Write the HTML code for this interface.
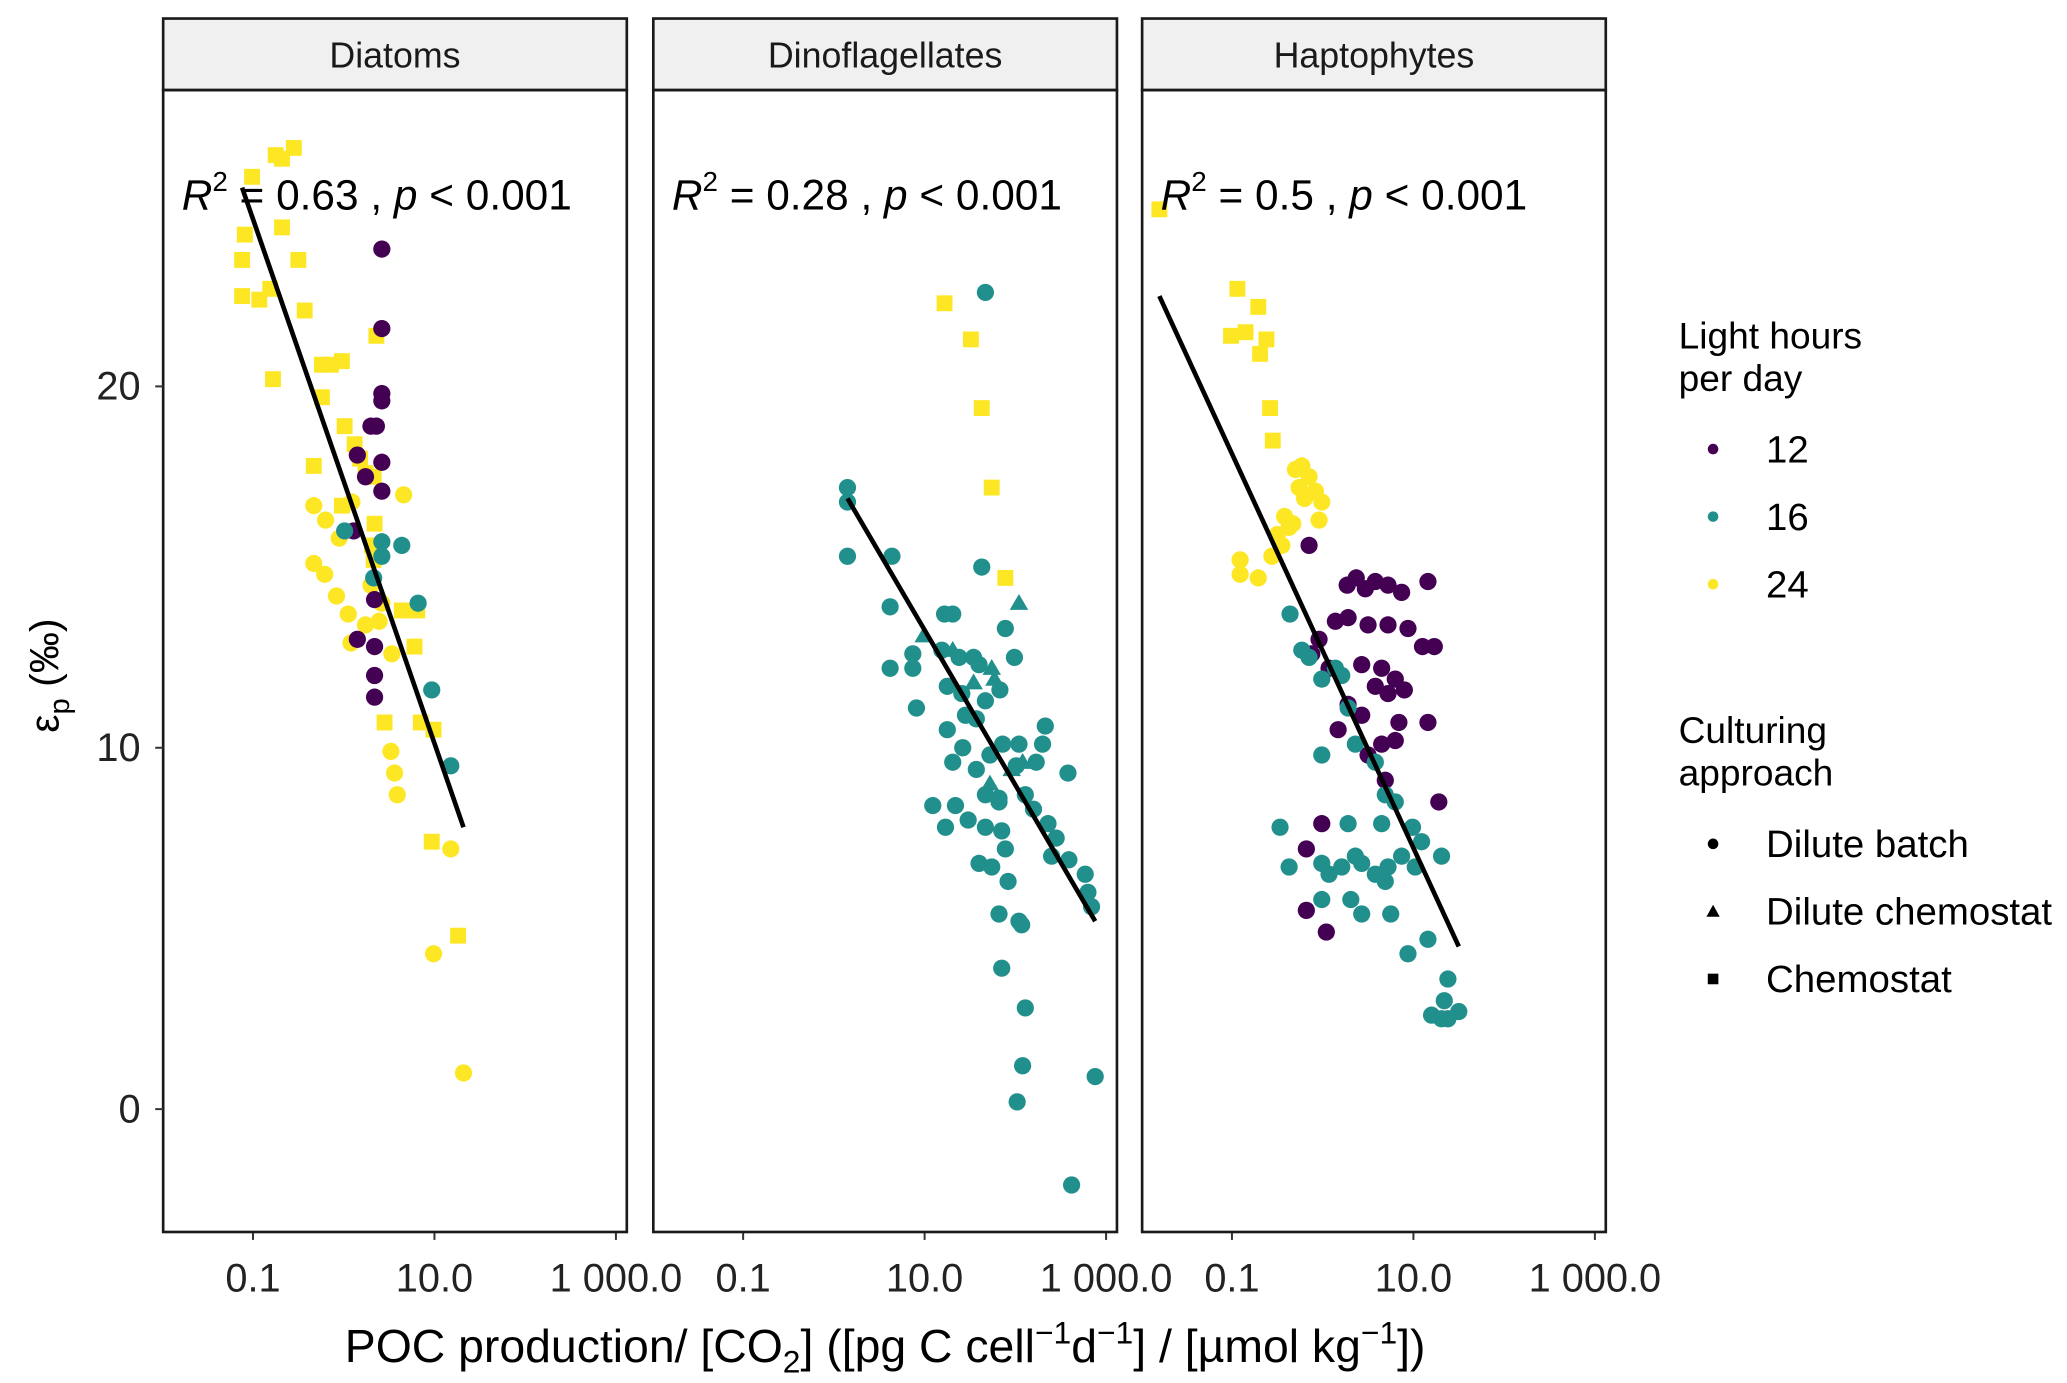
<!DOCTYPE html>
<html><head><meta charset="utf-8"><style>
html,body{margin:0;padding:0;background:#fff;}
svg{display:block;font-family:"Liberation Sans",Arial,sans-serif;}
</style></head><body>
<svg id="chart" width="2067" height="1383" viewBox="0 0 1560 1044" xmlns="http://www.w3.org/2000/svg">
<rect x="0" y="0" width="1560" height="1044" fill="#fff"/>
<g id="panels"></g>
<g id="legend">
  <text x="1267" y="263" font-size="28">Light hours</text>
  <text x="1267" y="295" font-size="28">per day</text>
  <circle cx="1293" cy="339" r="4" fill="#440154"/>
  <text x="1333" y="349" font-size="29">12</text>
  <circle cx="1293" cy="390" r="4" fill="#21908C"/>
  <text x="1333" y="400" font-size="29">16</text>
  <circle cx="1293" cy="441" r="4" fill="#FDE725"/>
  <text x="1333" y="451" font-size="29">24</text>
  <text x="1267" y="561" font-size="28">Culturing</text>
  <text x="1267" y="593" font-size="28">approach</text>
  <circle cx="1293" cy="637" r="4" fill="#000"/>
  <text x="1333" y="647" font-size="29">Dilute batch</text>
  <polygon points="1293,683 1298,692 1288,692" fill="#000"/>
  <text x="1333" y="698" font-size="29">Dilute chemostat</text>
  <rect x="1289" y="735" width="8" height="8" fill="#000"/>
  <text x="1333" y="749" font-size="29">Chemostat</text>
</g>
<text x="668" y="1028" font-size="35" text-anchor="middle">POC production/ [CO<tspan font-size="24" dy="8">2</tspan><tspan dy="-8">] ([pg C cell</tspan><tspan font-size="24" dy="-14">−1</tspan><tspan dy="14">d</tspan><tspan font-size="24" dy="-14">−1</tspan><tspan dy="14">] / [µmol kg</tspan><tspan font-size="24" dy="-14">−1</tspan><tspan dy="14">])</tspan></text>
<text transform="translate(44,510) rotate(-90)" font-size="31" text-anchor="middle">ε<tspan font-size="22" dy="8">p</tspan><tspan dy="-8"> (‰)</tspan></text>
</svg>
<script>
// ---------- data ----------
const panelNames = ["Diatoms","Dinoflagellates","Haptophytes"];
const r2Labels = ["0.63","0.28","0.5"];
const pLabels = ["0.001","0.001","0.001"];
const yTicks = [0,10,20];
const yTickLabels = ["0","10","20"];
const xTicksLog = [-1,1,3];
const xTickLabels = ["0.1","10.0","1 000.0"];
// fitted line endpoints [logx0, y0, logx1, y1]
const fitLines = [[-1.12,25.5,1.32,7.8],[0.15,16.9,2.88,5.2],[-1.80,22.5,1.50,4.5]];

// Diatoms
const p1x = [-1.01,-1.12,-1.12,-1.09,-0.93,-0.81,-0.75,-0.68,-0.55,-0.68,-0.50,-0.43,-0.78,-0.24,-0.14,-0.02,-0.24,-0.33,0.01,0.12,0.18,0.24,-0.02,0.34,0.31,0.33,0.33,0.64,0.81,0.78,0.45,0.85,0.99,0.97,1.26,0.36,
 -0.33,-0.20,-0.33,-0.21,-0.08,0.05,0.08,0.24,0.30,0.42,0.39,0.53,0.66,0.52,0.56,0.59,0.99,1.18,1.32,-0.05,0.09,
 0.42,0.42,0.42,0.42,0.36,0.30,0.42,0.15,0.24,0.42,0.15,0.34,0.34,0.34,0.34,0.11,
 0.01,0.42,0.64,0.82,0.97,1.18,0.42,0.33];
const p1y = [25.8,23.5,22.5,24.2,22.4,22.7,26.4,26.3,26.6,24.4,23.5,22.1,20.2,20.6,20.6,20.7,19.7,17.8,18.9,18.4,18.0,17.6,16.7,16.2,15.6,17.5,15.2,13.8,13.8,12.8,10.7,10.7,10.5,7.4,4.8,21.4,
 16.7,16.3,15.1,14.8,14.2,13.7,12.9,13.4,14.5,14.0,13.5,12.6,17.0,9.9,9.3,8.7,4.3,7.2,1.0,15.8,16.8,
 23.8,21.6,19.8,19.6,18.9,18.9,17.9,18.1,17.5,17.1,13.0,12.8,12.0,11.4,14.1,16.0,
 16.0,15.7,15.6,14.0,11.6,9.5,15.3,14.7];
const p1light = [24,24,24,24,24,24,24,24,24,24,24,24,24,24,24,24,24,24,24,24,24,24,24,24,24,24,24,24,24,24,24,24,24,24,24,24,
 24,24,24,24,24,24,24,24,24,24,24,24,24,24,24,24,24,24,24,24,24,
 12,12,12,12,12,12,12,12,12,12,12,12,12,12,12,12,
 16,16,16,16,16,16,16,16];
const p1shape = "ssssssssssssssssssssssssssssssssssss".split("").concat(Array(21).fill("c"),Array(16).fill("c"),Array(8).fill("c"));

// Dinoflagellates
const p2x = [1.22,1.51,1.63,1.74,1.89,
 0.15,0.15,0.15,0.64,1.67,0.62,0.87,0.87,0.62,0.91,1.22,1.31,1.63,1.19,1.38,1.54,1.60,1.99,1.89,1.25,1.41,1.25,1.45,1.67,1.83,1.09,1.23,1.31,1.42,1.57,1.72,1.86,2.01,2.04,2.11,2.23,2.33,2.30,2.20,2.58,2.36,2.45,2.40,2.59,2.77,2.80,2.84,1.67,1.82,1.67,1.85,1.48,1.34,1.60,1.74,1.89,1.92,1.82,2.04,2.07,1.85,2.11,2.08,2.02,2.62,2.88,1.57,1.82,
 0.99,1.31,1.54,1.77,2.04,1.72,1.96,2.08,1.74];
const p2y = [22.3,21.3,19.4,17.2,14.7,
 17.2,16.8,15.3,15.3,22.6,13.9,12.6,12.2,12.2,11.1,13.7,13.7,15.0,12.7,12.5,12.5,12.3,12.5,13.3,11.7,11.5,10.5,10.9,11.3,11.6,8.4,7.8,9.6,10.0,9.4,9.8,10.1,9.5,10.1,8.7,9.6,10.6,10.1,8.3,9.3,7.9,7.5,7.0,6.9,6.5,6.0,5.6,8.7,8.5,7.8,7.7,8.0,8.4,6.8,6.7,7.2,6.3,5.4,5.2,5.1,3.9,2.8,1.2,0.2,-2.1,0.9,10.8,8.6,
 13.1,12.7,11.8,11.9,14.0,9.0,9.4,9.6,12.2];
const p2light = Array(5).fill(24).concat(Array(68).fill(16),Array(9).fill(16));
const p2shape = Array(5).fill("s").concat(Array(68).fill("c"),Array(9).fill("t"));

// Haptophytes
const p3x = [-1.80,-0.94,-0.71,-1.01,-0.85,-0.62,-0.69,-0.58,-0.55,
 -0.91,-0.91,-0.71,-0.50,-0.45,-0.56,-0.37,-0.30,-0.23,-0.15,-0.26,-0.08,-0.20,-0.01,-0.04,-0.33,-0.42,
 -0.15,0.27,0.37,0.47,0.58,0.72,0.87,1.16,0.14,0.28,0.50,0.72,0.94,1.10,1.23,-0.04,-0.12,0.07,0.43,0.65,0.80,0.90,0.72,0.58,0.28,0.43,0.17,0.84,1.16,0.65,0.80,0.50,1.28,-0.01,-0.18,-0.18,0.04,0.69,
 -0.36,-0.23,-0.15,-0.01,0.14,0.21,0.28,-0.01,0.36,0.58,0.69,0.80,0.65,0.99,-0.47,-0.37,-0.01,0.07,0.21,0.28,0.36,0.58,0.72,0.43,0.69,0.75,0.43,0.31,-0.01,0.87,1.09,1.31,1.02,0.94,1.16,1.38,1.20,1.31,1.38,1.50,1.34];
const p3y = [24.9,22.7,22.2,21.4,21.5,21.3,20.9,19.4,18.5,
 15.2,14.8,14.7,15.9,15.6,15.3,16.1,17.7,17.8,17.5,17.2,17.1,16.9,16.8,16.3,16.2,16.4,
 15.6,14.5,14.7,14.4,14.6,14.5,14.3,14.6,13.5,13.6,13.4,13.4,13.3,12.8,12.8,13.0,12.6,12.2,12.3,12.2,11.9,11.6,11.5,11.7,11.2,10.9,10.5,10.7,10.7,10.1,10.2,9.8,8.5,7.9,7.2,5.5,4.9,9.1,
 13.7,12.7,12.5,11.9,12.2,12.0,11.1,9.8,10.1,9.6,8.7,8.5,7.9,7.8,7.8,6.7,6.8,6.5,6.7,7.9,7.0,6.5,6.7,6.8,6.3,5.4,5.4,5.8,5.8,7.0,7.4,7.0,6.7,4.3,4.7,3.6,2.6,2.5,2.5,2.7,3.0];
const p3light = Array(9).fill(24).concat(Array(17).fill(24),Array(38).fill(12),Array(41).fill(16));
const p3shape = Array(9).fill("s").concat(Array(96).fill("c"));

const panelX = [p1x,p2x,p3x], panelY = [p1y,p2y,p3y], panelLight = [p1light,p2light,p3light], panelShape = [p1shape,p2shape,p3shape];

// ---------- layout ----------
const NS = "http://www.w3.org/2000/svg";
const colors = {12:"#440154",16:"#21908C",24:"#FDE725"};
const panelLeft = [123,493,862], panelW = 350, plotTop = 68, plotBot = 930, stripTop = 14;
const logMin = -1.99, logMax = 3.12, yMin = -3.4, yMax = 28.2;
function xScale(i, lx){ return panelLeft[i] + (lx - logMin)/(logMax - logMin)*panelW; }
function yScale(v){ return plotBot - (v - yMin)/(yMax - yMin)*(plotBot - plotTop); }
function mk(tag, attrs, parent){ const e = document.createElementNS(NS, tag); for (const k in attrs) e.setAttribute(k, attrs[k]); parent.appendChild(e); return e; }

const root = document.getElementById("panels");
for (let i = 0; i < 3; i++) {
  const g = mk("g", {}, root);
  
  
  const L = panelLeft[i];
  const strip = mk("rect", {x:L, y:stripTop, width:panelW, height:plotTop-stripTop, fill:"#f0f0f0", stroke:"#1a1a1a", "stroke-width":2}, g);
  
  
  const st = mk("text", {x:L+panelW/2, y:51, "font-size":27, "text-anchor":"middle", fill:"#1a1a1a"}, g);
  st.textContent = panelNames[i];
  
  
  // x ticks
  xTicksLog.forEach((t, k) => {
    const x = xScale(i, t);
    const tk = mk("line", {x1:x, x2:x, y1:plotBot, y2:plotBot+6, stroke:"#333", "stroke-width":1.5}, g);
    
    
    const tl = mk("text", {x:x, y:975, "font-size":30, "text-anchor":"middle", fill:"#222"}, g);
    tl.textContent = xTickLabels[k];
    
    
  });
  // points
  const xs = panelX[i], ys = panelY[i], ls = panelLight[i], ss = panelShape[i];
  for (let j = 0; j < xs.length; j++) {
    const cx = xScale(i, xs[j]), cy = yScale(ys[j]), c = colors[ls[j]];
    let el;
    if (ss[j] === "s") el = mk("rect", {x:cx-6, y:cy-6, width:12, height:12, fill:c}, g);
    else if (ss[j] === "t") el = mk("polygon", {points:(cx)+","+(cy-7)+" "+(cx+7)+","+(cy+5)+" "+(cx-7)+","+(cy+5), fill:c}, g);
    else el = mk("circle", {cx:cx, cy:cy, r:6.5, fill:c}, g);
    
    
  }
  // fit line
  const f = fitLines[i];
  const ln = mk("line", {x1:xScale(i,f[0]), y1:yScale(f[1]), x2:xScale(i,f[2]), y2:yScale(f[3]), stroke:"#000", "stroke-width":3.5}, g);
  
  
  // annotation
  const an = mk("text", {x:L+14, y:158, "font-size":32, fill:"#000"}, g);
  an.innerHTML = '<tspan font-style="italic">R</tspan><tspan font-size="21" dy="-14">2</tspan><tspan dy="14"> = ' + r2Labels[i] + ' , </tspan><tspan font-style="italic">p</tspan><tspan> &lt; ' + pLabels[i] + '</tspan>';
  
  
  // frame
  const fr = mk("rect", {x:L, y:plotTop, width:panelW, height:plotBot-plotTop, fill:"none", stroke:"#1a1a1a", "stroke-width":2}, g);
  
  
}
// y axis
const ya = mk("g", {}, root);


yTicks.forEach((t, k) => {
  const y = yScale(t);
  const tk = mk("line", {x1:117, x2:123, y1:y, y2:y, stroke:"#333", "stroke-width":1.5}, ya);
  
  
  const tl = mk("text", {x:106, y:y+10, "font-size":30, "text-anchor":"end", fill:"#222"}, ya);
  tl.textContent = yTickLabels[k];
  
  
});
</script>
</body></html>
